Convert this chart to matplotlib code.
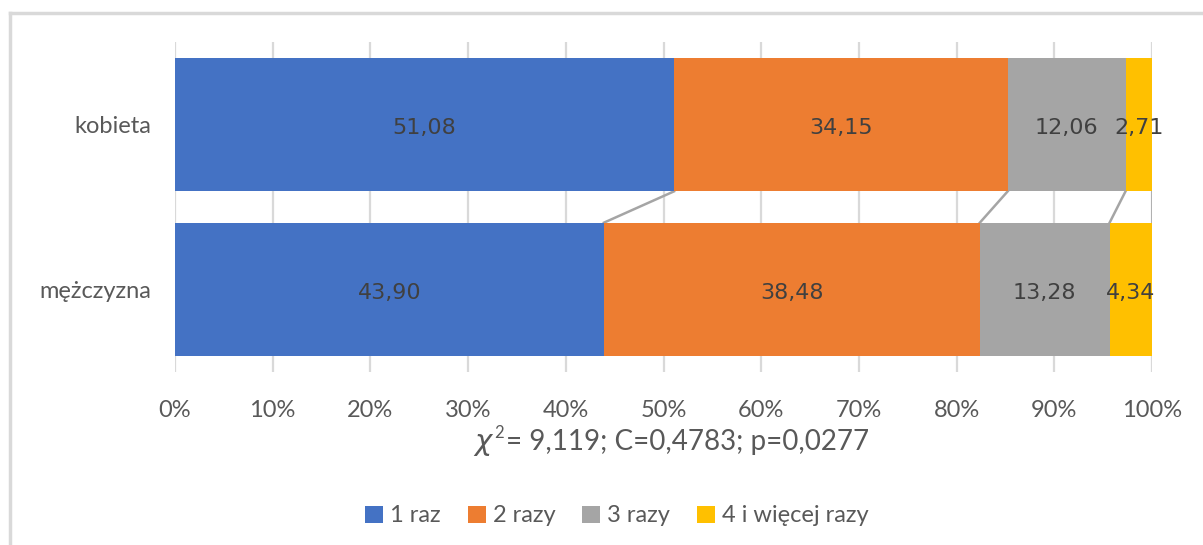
import matplotlib.pyplot as plt
from matplotlib.lines import Line2D
import numpy as np

# dane
categories = ['kobieta', 'mężczyzna']
series_names = ['1 raz', '2 razy', '3 razy', '4 i więcej razy']
values = {
    '1 raz': [51.08, 43.90],
    '2 razy': [34.15, 38.48],
    '3 razy': [12.06, 13.28],
    '4 i więcej razy': [2.71, 4.34],
}
colors = ['#4472c4', '#ed7d31', '#a5a5a5', '#ffc000']
ticks = np.arange(0, 101, 10)
stat_text = '= 9,119; C=0,4783; p=0,0277'

plt.rcParams['font.family'] = ['Lato', 'DejaVu Sans']

W, H = 1203, 545
fig = plt.figure(figsize=(W / 100, H / 100), dpi=100)
ax = fig.add_axes([175 / W, 1 - 372 / H, (1152 - 175) / W, 330 / H])

# ramka wykresu (lewa i górna krawędź)
fig.add_artist(Line2D([10 / W, 10 / W], [0, 1 - 13 / H], transform=fig.transFigure,
                      color='#d9d9d9', linewidth=2.5))
fig.add_artist(Line2D([10 / W, 1], [1 - 13 / H, 1 - 13 / H], transform=fig.transFigure,
                      color='#d9d9d9', linewidth=2.5))

y = np.arange(len(categories))
h = 0.81
left = np.zeros(len(categories))
for name, c in zip(series_names, colors):
    v = np.array(values[name])
    ax.barh(y, v, left=left, height=h, color=c, label=name, zorder=3)
    for yi, li, vi in zip(y, left, v):
        ax.text(li + vi / 2, yi + 0.02, f'{vi:.2f}'.replace('.', ','), ha='center', va='center',
                fontsize=16, color='#404040', family='DejaVu Sans', zorder=4)
    left = left + v
    # linie serii
    ax.plot([left[0], left[1]], [y[0] + h / 2, y[1] - h / 2], color='#a5a5a5',
            linewidth=1.8, zorder=2)

ax.set_xlim(0, 100)
ax.set_ylim(1.5, -0.5)
ax.set_yticks(y)
ax.set_yticklabels(categories)
ax.set_xticks(ticks)
ax.set_xticklabels([f'{t}%' for t in ticks])
ax.tick_params(length=0, labelsize=17, labelcolor='#595959')
ax.tick_params(axis='x', pad=20)
ax.tick_params(axis='y', pad=17)
ax.xaxis.grid(True, color='#d9d9d9', linewidth=1.6, zorder=0)
for s in ax.spines.values():
    s.set_visible(False)

# statystyka chi-kwadrat
ys = 1 - 442 / H
fig.text(494 / W, ys - 3 / H, r'$\chi$', ha='right', va='center', fontsize=21,
         color='#595959')
fig.text(494 / W, ys + 9 / H, '2', ha='left', va='center', fontsize=12, color='#595959')
fig.text(506 / W, ys, stat_text, ha='left', va='center', fontsize=20, color='#595959')

leg = fig.legend(loc='center', bbox_to_anchor=(617 / W, 1 - 516 / H),
                 ncol=4, frameon=False, fontsize=17, labelcolor='#595959', handlelength=0.75,
                 handleheight=0.75, handletextpad=0.3, columnspacing=1.15)

plt.savefig('out.png', dpi=100)
